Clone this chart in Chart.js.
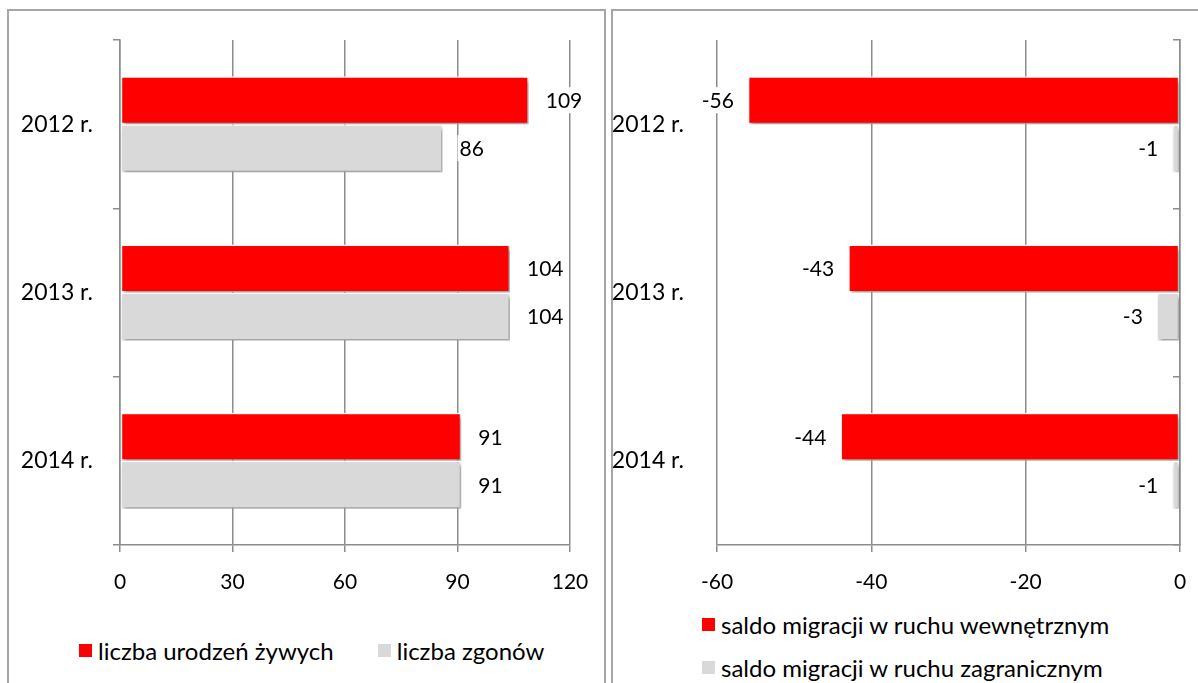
<!DOCTYPE html>
<html lang="pl">
<head>
<meta charset="utf-8">
<title>Ruch naturalny i migracje 2012-2014</title>
<script src="https://cdn.jsdelivr.net/npm/chart.js@4.4.0/dist/chart.umd.min.js"></script>
<style>
  html, body { margin: 0; padding: 0; background: #fff; overflow: hidden; width: 1198px; height: 683px; }
  .panel { position: absolute; top: 9px; height: 720px; border: 2px solid #a6a6a6; box-sizing: border-box; }
  #panelL { left: 7px; width: 599px; }
  #panelR { left: 611px; width: 620px; }
  canvas { position: absolute; top: 10px; }
  #left { left: 8px; }
  #right { left: 612px; }
  .legend { position: absolute; font-family: Lato, sans-serif; font-size: 24px; color: #000; }
  .legend .item { display: inline-flex; align-items: center; height: 28px; white-space: nowrap; }
  .legend .box { display: inline-block; width: 13px; height: 13px; margin-right: 6px; }
  #legendL { left: 79px; top: 633px; }
  #legendL .item { margin-right: 44px; }
  #legendR { left: 702px; top: 610px; }
  #legendR .item { display: flex; margin-bottom: 15px; }
</style>
</head>
<body>
<div class="panel" id="panelL"></div>
<div class="panel" id="panelR"></div>
<canvas id="left" width="597" height="600"></canvas>
<canvas id="right" width="586" height="600"></canvas>
<div class="legend" id="legendL"></div>
<div class="legend" id="legendR"></div>
<script>
// data
var years = ["2012 r.", "2013 r.", "2014 r."];
var births = [109, 104, 91];
var deaths = [86, 104, 91];
var internalMig = [-56, -43, -44];
var foreignMig = [-1, -3, -1];
var leftTicks = [0, 30, 60, 90, 120];
var rightTicks = [-60, -40, -20, 0];

var red = '#ff0000';
var grey = '#d9d9d9';
var gridColor = '#8c8c8c';

Chart.defaults.font.family = 'Lato';
Chart.defaults.font.size = 21;
Chart.defaults.color = '#000';

// soft drop shadow under the bars
var barShadow = {
  id: 'barShadow',
  beforeDatasetsDraw: function(chart) {
    var ctx = chart.ctx;
    ctx.save();
    ctx.shadowColor = 'rgba(0,0,0,0.4)';
    ctx.shadowBlur = 4;
    ctx.shadowOffsetX = 2;
    ctx.shadowOffsetY = 3;
  },
  afterDatasetsDraw: function(chart) {
    chart.ctx.restore();
  }
};

// value labels at the bar ends, on a white box
var valueLabels = {
  id: 'valueLabels',
  afterDatasetsDraw: function(chart, args, opts) {
    var ctx = chart.ctx;
    ctx.save();
    ctx.font = '21px Lato';
    ctx.textBaseline = 'middle';
    ctx.textAlign = 'left';
    chart.data.datasets.forEach(function(ds, i) {
      chart.getDatasetMeta(i).data.forEach(function(bar, j) {
        var v = ds.data[j];
        var txt = String(v);
        var w = ctx.measureText(txt).width;
        var x = v >= 0 ? bar.x + opts.gap : bar.x - opts.gap - w;
        ctx.fillStyle = '#fff';
        ctx.fillRect(x - 2, bar.y - 13, w + 4, 26);
        ctx.fillStyle = '#000';
        ctx.fillText(txt, x, bar.y + 1);
      });
    });
    ctx.restore();
  }
};

function barSet(label, data, color) {
  return {
    label: label,
    data: data,
    backgroundColor: color,
    borderColor: '#fff',
    borderWidth: 1.5,
    borderSkipped: false,
    categoryPercentage: 0.57,
    barPercentage: 1
  };
}

// simple html legend from the datasets
function buildLegend(chart, id) {
  var el = document.getElementById(id);
  chart.data.datasets.forEach(function(ds) {
    var item = document.createElement('div');
    item.className = 'item';
    var box = document.createElement('span');
    box.className = 'box';
    box.style.background = ds.backgroundColor;
    item.appendChild(box);
    item.appendChild(document.createTextNode(ds.label));
    el.appendChild(item);
  });
}

// keep the plot area where the layout padding puts it
function fixHeight(h) {
  return function(s) { s.height = h; s.paddingLeft = 0; s.paddingRight = 0; };
}
function fixWidth(w) {
  return function(s) { s.width = w; s.paddingTop = 0; s.paddingBottom = 0; };
}

var gridOpts = { color: gridColor, lineWidth: 1.5, tickLength: 7 };
var borderOpts = { color: gridColor, width: 1.5 };

var leftChart = new Chart(document.getElementById('left'), {
  type: 'bar',
  data: {
    labels: years,
    datasets: [
      barSet('liczba urodzeń żywych', births, red),
      barSet('liczba zgonów', deaths, grey)
    ]
  },
  options: {
    indexAxis: 'y',
    responsive: false,
    animation: false,
    layout: { padding: { top: 30, left: 5, right: 35, bottom: 15 } },
    scales: {
      x: {
        min: leftTicks[0],
        max: leftTicks[leftTicks.length - 1],
        ticks: { stepSize: leftTicks[1] - leftTicks[0], padding: 18 },
        grid: gridOpts,
        border: borderOpts,
        afterFit: fixHeight(50)
      },
      y: {
        ticks: { padding: 20, font: { size: 23 } },
        grid: { drawOnChartArea: false, color: gridColor, lineWidth: 1.5, tickLength: 7 },
        border: borderOpts,
        afterFit: fixWidth(107)
      }
    },
    plugins: {
      legend: { display: false },
      tooltip: { enabled: false },
      valueLabels: { gap: 17 }
    }
  },
  plugins: [barShadow, valueLabels]
});

var rightChart = new Chart(document.getElementById('right'), {
  type: 'bar',
  data: {
    labels: years,
    datasets: [
      barSet('saldo migracji w ruchu wewnętrznym', internalMig, red),
      barSet('saldo migracji w ruchu zagranicznym', foreignMig, grey)
    ]
  },
  options: {
    indexAxis: 'y',
    responsive: false,
    animation: false,
    layout: { padding: { top: 30, left: 0, right: 18, bottom: 15 } },
    scales: {
      x: {
        min: rightTicks[0],
        max: rightTicks[rightTicks.length - 1],
        ticks: { stepSize: rightTicks[1] - rightTicks[0], padding: 18 },
        grid: gridOpts,
        border: borderOpts,
        afterFit: fixHeight(50)
      },
      y: {
        ticks: { padding: 25, font: { size: 23 } },
        grid: { display: false },
        border: { display: false },
        afterFit: fixWidth(105)
      },
      yZero: {
        type: 'category',
        axis: 'y',
        position: 'right',
        offset: true,
        ticks: { display: false },
        grid: { offset: true, drawOnChartArea: false, color: gridColor, lineWidth: 1.5, tickLength: -7 },
        border: borderOpts,
        afterFit: fixWidth(0)
      }
    },
    plugins: {
      legend: { display: false },
      tooltip: { enabled: false },
      valueLabels: { gap: 14 }
    }
  },
  plugins: [barShadow, valueLabels]
});

buildLegend(leftChart, 'legendL');
buildLegend(rightChart, 'legendR');
</script>
</body>
</html>
